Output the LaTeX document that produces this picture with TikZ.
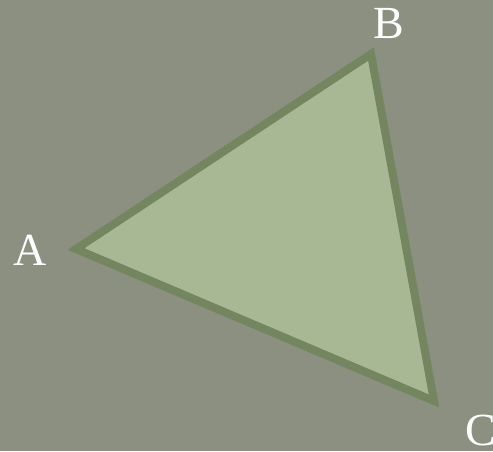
\documentclass[tikz,border=0pt]{standalone}
\usepackage{fontspec}
\setmainfont{Liberation Serif}
\definecolor{bg}{HTML}{8B9081}
\definecolor{trifill}{HTML}{A8B894}
\definecolor{tristroke}{HTML}{74865F}
\begin{document}
\begin{tikzpicture}[x=1pt,y=1pt,
  lbl/.style={text=white,font=\fontsize{46}{46}\selectfont,inner sep=0pt}]
\fill[bg] (0,0) rectangle (493,451);
\useasboundingbox (0,0) rectangle (493,451);
\coordinate (A) at (76,202);
\coordinate (B) at (371,397);
\coordinate (C) at (434,50);
\draw[tristroke,fill=trifill,line width=8pt,line join=miter] (A) -- (B) -- (C) -- cycle;
\node[lbl] (la) at (30,201) {A};
\node[lbl] (lb) at (389,427) {B};
\node[lbl] (lc) at (481,21) {C};
\end{tikzpicture}
\end{document}
